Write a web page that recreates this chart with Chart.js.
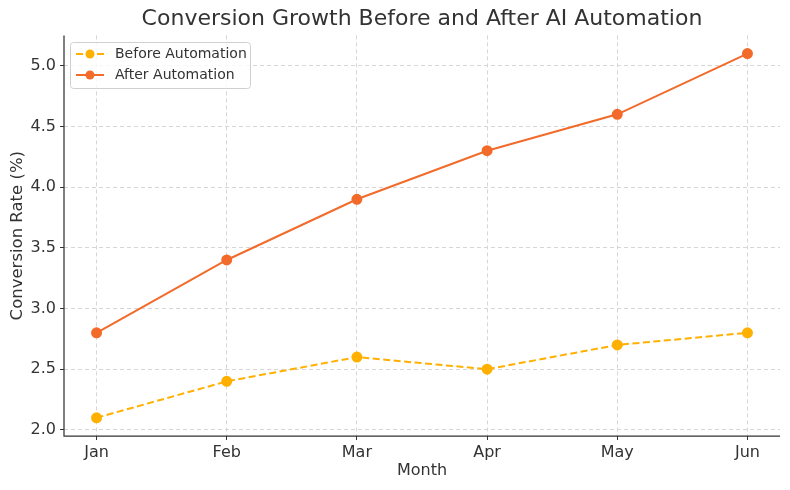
<!DOCTYPE html>
<html>
<head>
<meta charset="utf-8">
<script src="https://cdn.jsdelivr.net/npm/chart.js@4/dist/chart.umd.min.js"></script>
<style>
html,body{margin:0;padding:0;background:#fff;}
#wrap{width:790px;height:490px;}
</style>
</head>
<body>
<div id="wrap"><canvas id="c" width="790" height="490"></canvas></div>
<script>
const months = ["Jan", "Feb", "Mar", "Apr", "May", "Jun"];
const beforeAutomation = [2.1, 2.4, 2.6, 2.5, 2.7, 2.8];
const afterAutomation = [2.8, 3.4, 3.9, 4.3, 4.6, 5.1];
const yTicks = [2.0, 2.5, 3.0, 3.5, 4.0, 4.5, 5.0];

const FONT = "'DejaVu Sans', sans-serif";
const TXT = "#333333";
const C_BEFORE = "#FFB000";
const C_AFTER = "#F26B2B";

const toXY = arr => arr.map((v, i) => ({x: i, y: v}));

const legendPlugin = {
  id: 'innerLegend',
  afterDraw(chart) {
    const ctx = chart.ctx;
    const x = 70.5, y = 42.5, w = 180, h = 46;
    ctx.save();
    ctx.fillStyle = 'rgba(255,255,255,0.8)';
    ctx.strokeStyle = '#d0d0d0';
    ctx.lineWidth = 1;
    ctx.beginPath();
    ctx.roundRect(x, y, w, h, 3);
    ctx.fill();
    ctx.stroke();
    chart.data.datasets.forEach((ds, i) => {
      const cy = 54 + i * 21;
      ctx.strokeStyle = ds.borderColor;
      ctx.lineWidth = 2;
      ctx.setLineDash(ds.borderDash || []);
      ctx.beginPath();
      ctx.moveTo(76, cy);
      ctx.lineTo(104, cy);
      ctx.stroke();
      ctx.setLineDash([]);
      ctx.fillStyle = ds.pointBackgroundColor;
      ctx.beginPath();
      ctx.arc(90, cy, 4.5, 0, Math.PI * 2);
      ctx.fill();
      ctx.fillStyle = TXT;
      ctx.font = "14px " + FONT;
      ctx.textBaseline = 'middle';
      ctx.textAlign = 'left';
      ctx.fillText(ds.label, 115, cy);
    });
    ctx.restore();
  }
};

const spinePlugin = {
  id: 'spines',
  afterDatasetsDraw(chart) {
    const {ctx, chartArea: a} = chart;
    ctx.save();
    ctx.strokeStyle = '#333';
    ctx.lineWidth = 1.25;
    ctx.setLineDash([]);
    ctx.beginPath();
    ctx.moveTo(a.left, a.top);
    ctx.lineTo(a.left, a.bottom);
    ctx.lineTo(a.right, a.bottom);
    ctx.stroke();
    ctx.restore();
  }
};

const gridCfg = {
  color: '#d6d6d6',
  lineWidth: 1,
  tickColor: '#333',
  tickLength: 4,
  tickBorderDash: [],
  tickWidth: 1
};

new Chart(document.getElementById('c'), {
  type: 'line',
  data: {
    datasets: [
      {
        label: 'Before Automation',
        data: toXY(beforeAutomation),
        borderColor: C_BEFORE,
        backgroundColor: C_BEFORE,
        pointBackgroundColor: C_BEFORE,
        pointBorderColor: C_BEFORE,
        borderDash: [7, 3.5],
        borderWidth: 2,
        pointRadius: 4.5,
        tension: 0
      },
      {
        label: 'After Automation',
        data: toXY(afterAutomation),
        borderColor: C_AFTER,
        backgroundColor: C_AFTER,
        pointBackgroundColor: C_AFTER,
        pointBorderColor: C_AFTER,
        borderWidth: 2,
        pointRadius: 4.5,
        tension: 0
      }
    ]
  },
  options: {
    responsive: false,
    animation: false,
    devicePixelRatio: 1,
    layout: {padding: {left: 8, right: 10, top: 0, bottom: 10}},
    plugins: {
      legend: {display: false},
      tooltip: {enabled: false},
      title: {
        display: true,
        text: 'Conversion Growth Before and After AI Automation',
        color: TXT,
        font: {family: FONT, size: 22, weight: 'normal'},
        padding: {top: 6, bottom: 3},
        fullSize: false
      }
    },
    scales: {
      x: {
        type: 'linear',
        min: -0.25,
        max: 5.25,
        afterBuildTicks(s) { s.ticks = months.map((m, i) => ({value: i})); },
        afterFit(s) { s.height = 44; },
        ticks: {
          callback: (v) => months[v],
          color: TXT,
          font: {family: FONT, size: 16},
          padding: 3,
          maxRotation: 0,
          autoSkip: false
        },
        grid: gridCfg,
        border: {display: false, dash: [4, 3]},
        title: {
          display: true,
          text: 'Month',
          color: TXT,
          font: {family: FONT, size: 16},
          padding: {top: 0, bottom: 0}
        }
      },
      y: {
        type: 'linear',
        min: 1.95,
        max: 5.25,
        afterBuildTicks(s) { s.ticks = yTicks.map(v => ({value: v})); },
        afterFit(s) { s.width = 56; },
        ticks: {
          callback: (v) => v.toFixed(1),
          color: TXT,
          font: {family: FONT, size: 16},
          padding: 4
        },
        grid: gridCfg,
        border: {display: false, dash: [4, 3]},
        title: {
          display: true,
          text: 'Conversion Rate (%)',
          color: TXT,
          font: {family: FONT, size: 16.5},
          padding: {top: 0, bottom: 2}
        }
      }
    }
  },
  plugins: [spinePlugin, legendPlugin]
});
</script>
</body>
</html>
